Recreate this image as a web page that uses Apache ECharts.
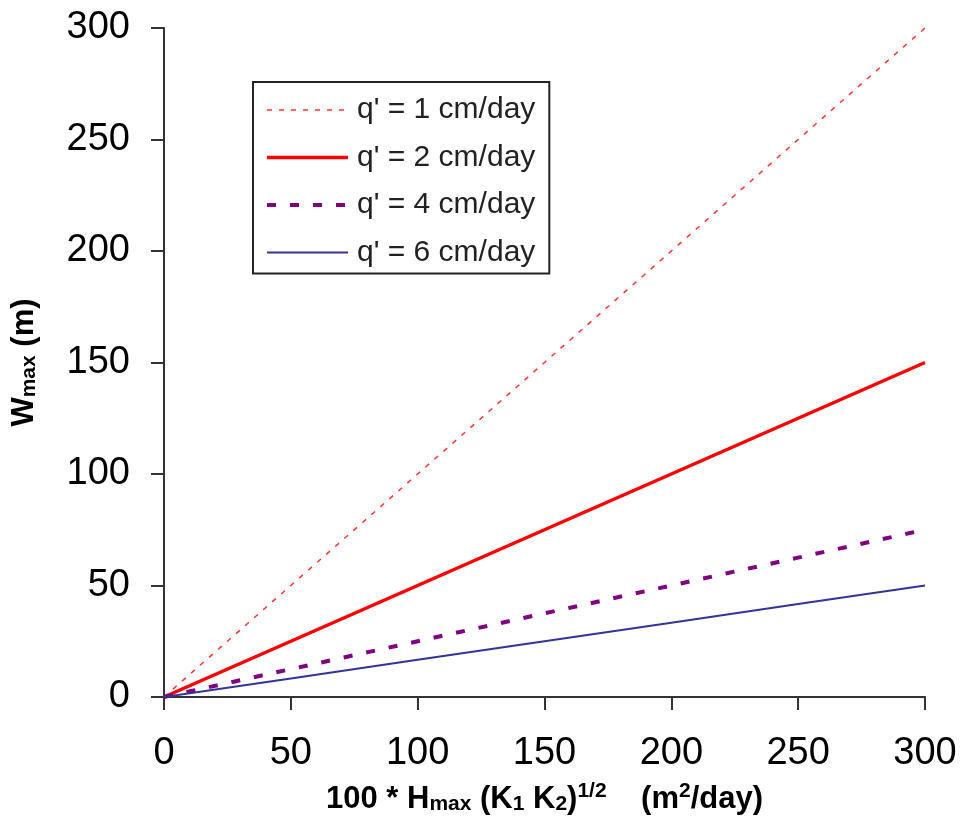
<!DOCTYPE html>
<html>
<head>
<meta charset="utf-8">
<script src="https://cdn.jsdelivr.net/npm/echarts@6/dist/echarts.min.js"></script>
<style>
  html, body { margin: 0; padding: 0; background: #fff; }
  #chart { width: 962px; height: 833px; }
</style>
</head>
<body>
<div id="chart"></div>
<script>
// Horizontal positions: 100 * Hmax (K1 K2)^1/2 in m2/day
const xValues = [0, 50, 100, 150, 200, 250, 300];
// Maximum width Wmax (m) for each recharge rate q'
const wQ1 = [0, 50, 100, 150, 200, 250, 300];
const wQ2 = [0, 25, 50, 75, 100, 125, 150];
const wQ4 = [0, 12.5, 25, 37.5, 50, 62.5, 75];
const wQ6 = [0, 8.33, 16.67, 25, 33.33, 41.67, 50];
const seriesNames = ["q' = 1 cm/day", "q' = 2 cm/day", "q' = 4 cm/day", "q' = 6 cm/day"];
const axisTicks = [0, 50, 100, 150, 200, 250, 300];

const pairs = (ys) => xValues.map((x, i) => [x, ys[i]]);
const FONT = '"Liberation Sans", Arial, sans-serif';

// Line styles shared by the plotted series and their legend keys
const styles = [
  { color: '#ff3333', width: 1.5, type: [5, 7] },
  { color: '#ff0000', width: 3.5, type: 'solid' },
  { color: '#800080', width: 4, type: [9, 14] },
  { color: '#333399', width: 2, type: 'solid' }
];

const chart = echarts.init(document.getElementById('chart'), null, { renderer: 'canvas' });

const axisCommon = {
  type: 'value',
  min: axisTicks[0],
  max: axisTicks[axisTicks.length - 1],
  interval: axisTicks[1] - axisTicks[0],
  splitLine: { show: false },
  axisLine: { show: true, lineStyle: { color: '#333', width: 2 } },
  axisTick: { show: true, inside: false, length: 13, lineStyle: { color: '#333', width: 2 } },
  axisLabel: { color: '#000', fontSize: 38, fontFamily: FONT }
};

// Rich-text pieces for subscripts / superscripts in the axis titles
const nameRich = {
  b: { fontSize: 31, fontWeight: 'bold', fontFamily: FONT, color: '#000', verticalAlign: 'bottom', lineHeight: 34 },
  sub: { fontSize: 21, fontWeight: 'bold', fontFamily: FONT, color: '#000', verticalAlign: 'bottom', lineHeight: 16 },
  sup: { fontSize: 21, fontWeight: 'bold', fontFamily: FONT, color: '#000', verticalAlign: 'top', lineHeight: 21, padding: [0, 0, 28, 0] }
};

chart.setOption({
  animation: false,
  backgroundColor: '#fff',
  grid: { left: 164, right: 37, top: 28, bottom: 136, containLabel: false, outerBoundsMode: 'none' },
  legend: {
    orient: 'vertical',
    left: 253,
    top: 82,
    data: seriesNames.map((name, i) => ({ name: name, lineStyle: { width: styles[i].width, type: styles[i].type } })),
    itemWidth: 81,
    itemHeight: 14,
    itemGap: 17.5,
    padding: [13, 14, 6, 12],
    borderColor: '#222',
    borderWidth: 2,
    backgroundColor: '#fff',
    itemStyle: { opacity: 0 },
    textStyle: { fontSize: 30, fontFamily: FONT, color: '#222', lineHeight: 30, padding: [0, 0, 0, 4] }
  },
  xAxis: Object.assign({}, axisCommon, {
    axisLabel: Object.assign({}, axisCommon.axisLabel, { margin: 38 }),
    name: '{b|100 * H}{sub|max}{b| (K}{sub|1}{b| K}{sub|2}{b|)}{sup|1/2}{b|    (m}{sup|2}{b|/day)}',
    nameLocation: 'middle',
    nameGap: 84,
    nameTextStyle: { fontSize: 31, fontWeight: 'bold', fontFamily: FONT, color: '#000', rich: nameRich }
  }),
  yAxis: Object.assign({}, axisCommon, {
    axisLabel: Object.assign({}, axisCommon.axisLabel, { margin: 34 }),
    name: '{b|W}{sub|max}{b| (m)}',
    nameLocation: 'middle',
    nameRotate: 90,
    nameGap: 124,
    nameTextStyle: { fontSize: 31, fontWeight: 'bold', fontFamily: FONT, color: '#000', rich: nameRich }
  }),
  series: [wQ1, wQ2, wQ4, wQ6].map((vals, i) => ({
    name: seriesNames[i],
    type: 'line',
    data: pairs(vals),
    symbol: 'none',
    lineStyle: styles[i],
    itemStyle: { color: styles[i].color }
  }))
});
</script>
</body>
</html>
